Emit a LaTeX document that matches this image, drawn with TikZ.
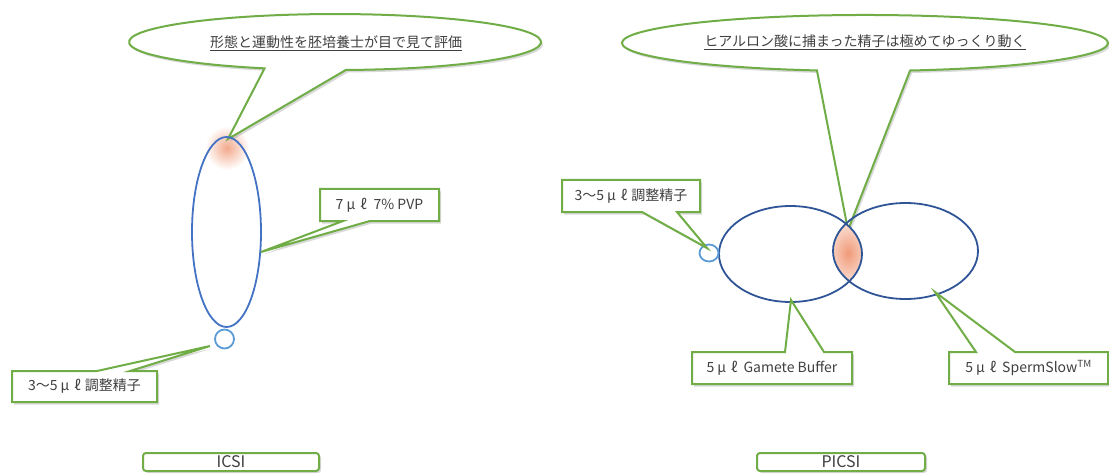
\documentclass[tikz,border=0pt]{standalone}
\usepackage{fontspec}
\setmainfont{Noto Sans CJK JP}
\usetikzlibrary{shadows,fadings}
\definecolor{cgreen}{HTML}{70AD47}
\definecolor{cblue}{HTML}{4472C4}
\definecolor{clight}{HTML}{5B9BD5}
\definecolor{cdark}{HTML}{2F5597}
\definecolor{ctext}{HTML}{404040}
\definecolor{corange}{HTML}{F09A78}
\newcommand{\mul}{\hspace{3pt}μ\hspace{5pt}ℓ\hspace{4pt}}
\begin{document}
\begin{tikzpicture}[x=1pt,y=1pt,
  callout/.style={draw=cgreen, line width=2pt, fill=white, line join=miter,
    drop shadow={shadow xshift=2pt, shadow yshift=-2.5pt, opacity=0.3, fill=gray}},
  lbl/.style={text=ctext, font=\fontsize{14}{16}\selectfont, inner sep=0pt},
  tag/.style={draw=cgreen, line width=2pt, fill=white, rounded corners=3pt,
    minimum height=18pt, inner sep=0pt, text=ctext, font=\fontsize{16}{16}\selectfont,
    drop shadow={shadow xshift=2pt, shadow yshift=-2pt, opacity=0.3, fill=gray}},
  dish/.style={line width=1.8pt}
]
\useasboundingbox (0,0) rectangle (1109,-476);

% ---------- ICSI side ----------
\shade[inner color=corange!85, outer color=white] (227,-148) circle (22);
\path[callout] (228,-139) -- (345.8,-70.0)
  arc[start angle=273, end angle=610, x radius=206, y radius=28] -- cycle;
\node[lbl] (bal1) at (336,-43) {\underline{形態と運動性を胚培養士が目で見て評価}};

\draw[dish, cblue] (226.5,-232) ellipse[x radius=34.5, y radius=95];
\draw[dish, clight] (224.5,-339) circle (9.5);

\path[callout] (320,-189) -- (439,-189) -- (439,-221) -- (370,-221) -- (261,-252)
  -- (343,-221) -- (320,-221) -- cycle;
\node[lbl] (pvp) at (379.5,-205) {7\mul\hspace{3pt}7\% PVP};

\path[callout] (12,-371) -- (97,-371) -- (210,-346) -- (130,-371) -- (157,-371)
  -- (157,-402) -- (12,-402) -- cycle;
\node[lbl] (sperm1) at (84.5,-386.5) {3〜5\mul 調整精子};

\node[tag, minimum width=176pt] (icsi) at (231,-462) {ICSI};

% ---------- PICSI side ----------
\path[callout] (848,-230) -- (910.1,-70.5)
  arc[start angle=280.7, end angle=618.6, x radius=243, y radius=28] -- cycle;
\node[lbl] (bal2) at (865,-42) {\underline{ヒアルロン酸に捕まった精子は極めてゆっくり動く}};

\begin{scope}
  \clip (790.5,-254) ellipse[x radius=71.5, y radius=48];
  \clip (905.5,-251) ellipse[x radius=72.5, y radius=48];
  \shade[inner color=corange, outer color=white] (848,-253) ellipse[x radius=30, y radius=44];
\end{scope}

\draw[dish, cdark] (790.5,-254) ellipse[x radius=71.5, y radius=48];
\draw[dish, cdark] (905.5,-251) ellipse[x radius=72.5, y radius=48];
\draw[dish, clight] (709,-253) ellipse[x radius=9.5, y radius=8.5];

\path[callout] (562,-180) -- (700,-180) -- (700,-212) -- (677,-212) -- (707,-248)
  -- (642,-212) -- (562,-212) -- cycle;
\node[lbl] (sperm2) at (631,-196) {3〜5\mul 調整精子};

\path[callout] (692,-352) -- (785,-352) -- (791,-300) -- (824,-352) -- (852,-352)
  -- (852,-384) -- (692,-384) -- cycle;
\node[lbl] (gb) at (772,-368) {5\mul\hspace{2pt}Gamete Buffer};

\path[callout] (949,-352) -- (976,-352) -- (935,-292) -- (1015,-352) -- (1108,-352)
  -- (1108,-384) -- (949,-384) -- cycle;
\node[lbl] (ss) at (1028.5,-368) {5\mul\hspace{2pt}SpermSlow\textsuperscript{TM}};

\node[tag, minimum width=168pt] (picsi) at (841,-462) {PICSI};
\end{tikzpicture}
\end{document}
